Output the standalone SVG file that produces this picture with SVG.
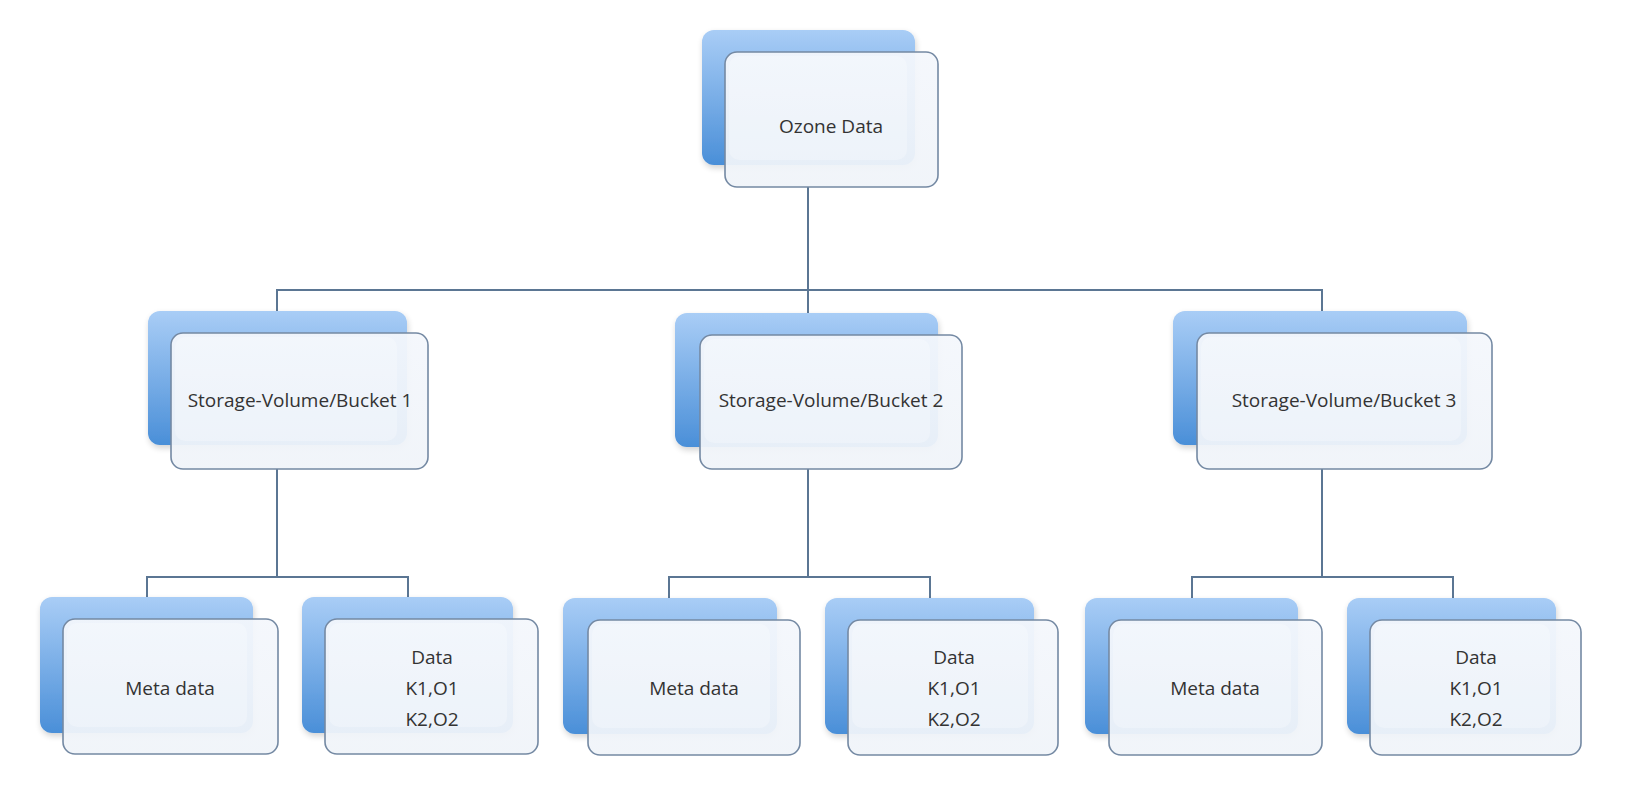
<svg xmlns="http://www.w3.org/2000/svg" width="1628" height="800" viewBox="0 0 1628 800">
<defs>
<linearGradient id="blueGrad" x1="0" y1="0" x2="0" y2="1">
<stop offset="0" stop-color="#a9cdf6"/>
<stop offset="1" stop-color="#4a8fd8"/>
</linearGradient>
<linearGradient id="frontGrad" x1="0" y1="0" x2="0" y2="1">
<stop offset="0" stop-color="#f4f7fc"/>
<stop offset="1" stop-color="#f0f4f9"/>
</linearGradient>
<filter id="sh" x="-10%" y="-10%" width="130%" height="130%">
<feGaussianBlur in="SourceAlpha" stdDeviation="3"/>
<feOffset dx="1" dy="3"/>
<feComponentTransfer><feFuncA type="linear" slope="0.18"/></feComponentTransfer>
<feMerge><feMergeNode/><feMergeNode in="SourceGraphic"/></feMerge>
</filter>
</defs>
<style>
.back{fill:url(#blueGrad);stroke:none;filter:url(#sh)}
.front{fill:url(#frontGrad);fill-opacity:0.94;stroke:#7489a3;stroke-width:1.6}
.inner{fill:#ffffff;fill-opacity:0.25;stroke:none}
.conn{fill:none;stroke:#5b7693;stroke-width:2}
.lbl{font-family:"Open Sans","Liberation Sans",sans-serif;font-size:19px;fill:#333333;text-anchor:middle}
</style>
<rect width="1628" height="800" fill="#ffffff"/>
<g id="connectors">
<path class="conn" d="M808 187 V290 M277 311 V290 H1322 V311 M808 290 V313"/>
<path class="conn" d="M277 469 V577 M147 597 V577 H408 V597"/>
<path class="conn" d="M808 469 V577 M669 598 V577 H930 V598"/>
<path class="conn" d="M1322 469 V577 M1192 598 V577 H1453 V598"/>
</g>
<g id="ozone">
<rect class="back" x="702" y="30" width="213" height="135" rx="12"/>
<rect class="front" x="725" y="52" width="213" height="135" rx="12"/>
<rect class="inner" x="729" y="56" width="178" height="104" rx="10"/>
<text class="lbl" x="831" y="133">Ozone Data</text>
</g>
<g id="bucket1">
<rect class="back" x="148" y="311" width="259" height="134" rx="12"/>
<rect class="front" x="171" y="333" width="257" height="136" rx="12"/>
<rect class="inner" x="175" y="337" width="222" height="104" rx="10"/>
<text class="lbl" x="300" y="407">Storage-Volume/Bucket 1</text>
</g>
<g id="bucket2">
<rect class="back" x="675" y="313" width="263" height="134" rx="12"/>
<rect class="front" x="700" y="335" width="262" height="134" rx="12"/>
<rect class="inner" x="704" y="339" width="226" height="104" rx="10"/>
<text class="lbl" x="831" y="407">Storage-Volume/Bucket 2</text>
</g>
<g id="bucket3">
<rect class="back" x="1173" y="311" width="294" height="134" rx="12"/>
<rect class="front" x="1197" y="333" width="295" height="136" rx="12"/>
<rect class="inner" x="1201" y="337" width="260" height="104" rx="10"/>
<text class="lbl" x="1344" y="407">Storage-Volume/Bucket 3</text>
</g>
<g id="meta1">
<rect class="back" x="40" y="597" width="213" height="136" rx="12"/>
<rect class="front" x="63" y="619" width="215" height="135" rx="12"/>
<rect class="inner" x="67" y="623" width="180" height="104" rx="10"/>
<text class="lbl" x="170" y="695">Meta data</text>
</g>
<g id="data1">
<rect class="back" x="302" y="597" width="211" height="136" rx="12"/>
<rect class="front" x="325" y="619" width="213" height="135" rx="12"/>
<rect class="inner" x="329" y="623" width="178" height="104" rx="10"/>
<text class="lbl" x="432" y="664">Data</text>
<text class="lbl" x="432" y="695">K1,O1</text>
<text class="lbl" x="432" y="726">K2,O2</text>
</g>
<g id="meta2">
<rect class="back" x="563" y="598" width="214" height="136" rx="12"/>
<rect class="front" x="588" y="620" width="212" height="135" rx="12"/>
<rect class="inner" x="592" y="624" width="178" height="104" rx="10"/>
<text class="lbl" x="694" y="695">Meta data</text>
</g>
<g id="data2">
<rect class="back" x="825" y="598" width="209" height="136" rx="12"/>
<rect class="front" x="848" y="620" width="210" height="135" rx="12"/>
<rect class="inner" x="852" y="624" width="176" height="104" rx="10"/>
<text class="lbl" x="954" y="664">Data</text>
<text class="lbl" x="954" y="695">K1,O1</text>
<text class="lbl" x="954" y="726">K2,O2</text>
</g>
<g id="meta3">
<rect class="back" x="1085" y="598" width="213" height="136" rx="12"/>
<rect class="front" x="1109" y="620" width="213" height="135" rx="12"/>
<rect class="inner" x="1113" y="624" width="178" height="104" rx="10"/>
<text class="lbl" x="1215" y="695">Meta data</text>
</g>
<g id="data3">
<rect class="back" x="1347" y="598" width="209" height="136" rx="12"/>
<rect class="front" x="1370" y="620" width="211" height="135" rx="12"/>
<rect class="inner" x="1374" y="624" width="176" height="104" rx="10"/>
<text class="lbl" x="1476" y="664">Data</text>
<text class="lbl" x="1476" y="695">K1,O1</text>
<text class="lbl" x="1476" y="726">K2,O2</text>
</g>
</svg>
